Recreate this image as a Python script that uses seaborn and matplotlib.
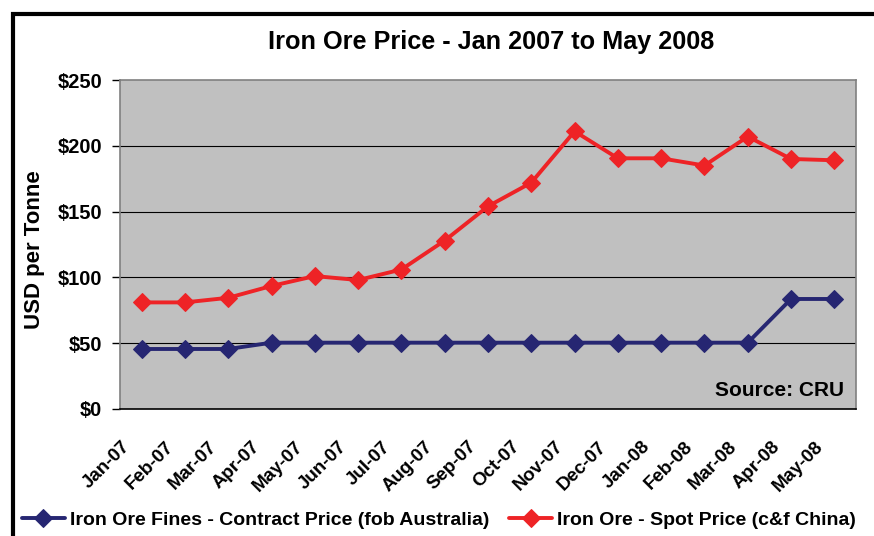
import matplotlib
matplotlib.use("Agg")
import matplotlib.pyplot as plt
from matplotlib.patches import Rectangle
from matplotlib.transforms import ScaledTranslation
import numpy as np
import pandas as pd
import seaborn as sns

MONTHS = ["Jan-07", "Feb-07", "Mar-07", "Apr-07", "May-07", "Jun-07", "Jul-07",
          "Aug-07", "Sep-07", "Oct-07", "Nov-07", "Dec-07", "Jan-08", "Feb-08",
          "Mar-08", "Apr-08", "May-08"]
FINES = [45.6, 45.6, 45.6, 50.4, 50.4, 50.4, 50.4, 50.4, 50.4, 50.4, 50.4,
         50.4, 50.4, 50.4, 50.4, 83.6, 83.6]
SPOT = [81, 81, 84.5, 93.5, 101, 98, 106, 128, 154, 172, 211, 190.5, 190.5,
        185, 207, 190, 189]
FINES_NAME = "Iron Ore Fines - Contract Price (fob Australia)"
SPOT_NAME = "Iron Ore - Spot Price (c&f China)"
Y_TICKS = [0, 50, 100, 150, 200, 250]

sns.set_style("white")
plt.rcParams["font.family"] = ["Liberation Sans", "DejaVu Sans"]
plt.rcParams["font.weight"] = "bold"
for key in ["text.color", "axes.labelcolor", "xtick.color", "ytick.color"]:
    plt.rcParams[key] = "black"

df = pd.DataFrame({"month": MONTHS, "idx": np.arange(len(MONTHS)),
                   FINES_NAME: FINES, SPOT_NAME: SPOT})

fig = plt.figure(figsize=(8.74, 5.36), dpi=100)
ax = fig.add_axes([120 / 874, 1 - 409 / 536, 736 / 874, 329 / 536])
ax.set_facecolor("#C0C0C0")

navy = "#262672"
red = "#EE2326"
sns.lineplot(data=df, x="idx", y=FINES_NAME, ax=ax, color=navy, marker="D",
             markersize=9.5, markeredgecolor=navy, linewidth=2.8, label=FINES_NAME)
sns.lineplot(data=df, x="idx", y=SPOT_NAME, ax=ax, color=red, marker="D",
             markersize=9.5, markeredgecolor=red, linewidth=2.8, label=SPOT_NAME)

ax.set_xlim(-0.5, len(MONTHS) - 0.5)
ax.set_ylim(0, 250)
ax.set_yticks(Y_TICKS)
ax.set_yticklabels([f"${v}" for v in Y_TICKS], fontsize=14.5, fontweight="bold")
ax.set_xticks(np.arange(len(MONTHS)))
ax.set_xticklabels(MONTHS, rotation=45, ha="right", rotation_mode="anchor",
                   fontsize=13.5, fontweight="bold")
ax.tick_params(axis="x", length=0, pad=8)
shift = ScaledTranslation(-20 / 100, -18 / 100, fig.dpi_scale_trans)
for lab in ax.get_xticklabels():
    lab.set_transform(lab.get_transform() + shift)
# category boundary ticks
ax.set_xticks(np.arange(len(MONTHS) + 1) - 0.5, minor=True)
ax.tick_params(axis="x", which="minor", length=5, width=1, color="black", direction="out")
ax.tick_params(axis="y", length=6, width=1, color="black", direction="out",
               left=True, pad=7)
for v in Y_TICKS[1:-1]:
    ax.axhline(v, color="black", linewidth=0.8, zorder=0.5)
ax.set_xlabel("")
ax.set_ylabel("USD per Tonne", fontsize=16, fontweight="bold")
ax.yaxis.set_label_coords(-0.1016, 0.483)
for s in ["left", "top", "right"]:
    ax.spines[s].set_color("#808080")
    ax.spines[s].set_linewidth(1.2)
ax.spines["bottom"].set_color("black")
ax.spines["bottom"].set_linewidth(1.2)

ax.text(0.984, 0.055, "Source: CRU", transform=ax.transAxes, ha="right",
        va="center", fontsize=15, fontweight="bold")

fig.text(491 / 874, 1 - 42 / 536, "Iron Ore Price - Jan 2007 to May 2008",
         ha="center", va="center", fontsize=18.2, fontweight="bold")

ax.get_legend().remove()
handles, labels = ax.get_legend_handles_labels()
fig.legend(handles, labels, loc="center left", bbox_to_anchor=(14 / 874, 1 - 520 / 536),
           ncol=2, frameon=False, prop={"size": 14, "weight": "bold"},
           handlelength=2.2, handletextpad=0.26, columnspacing=1.05, borderaxespad=0)

# outer chart frame (right and bottom edges fall outside the image)
fig.patches.append(Rectangle((13 / 874, -0.2), 1.2, 1.2 - 14 / 536,
                             transform=fig.transFigure, fill=False,
                             edgecolor="black", linewidth=3))

fig.savefig("out.png", dpi=100)
